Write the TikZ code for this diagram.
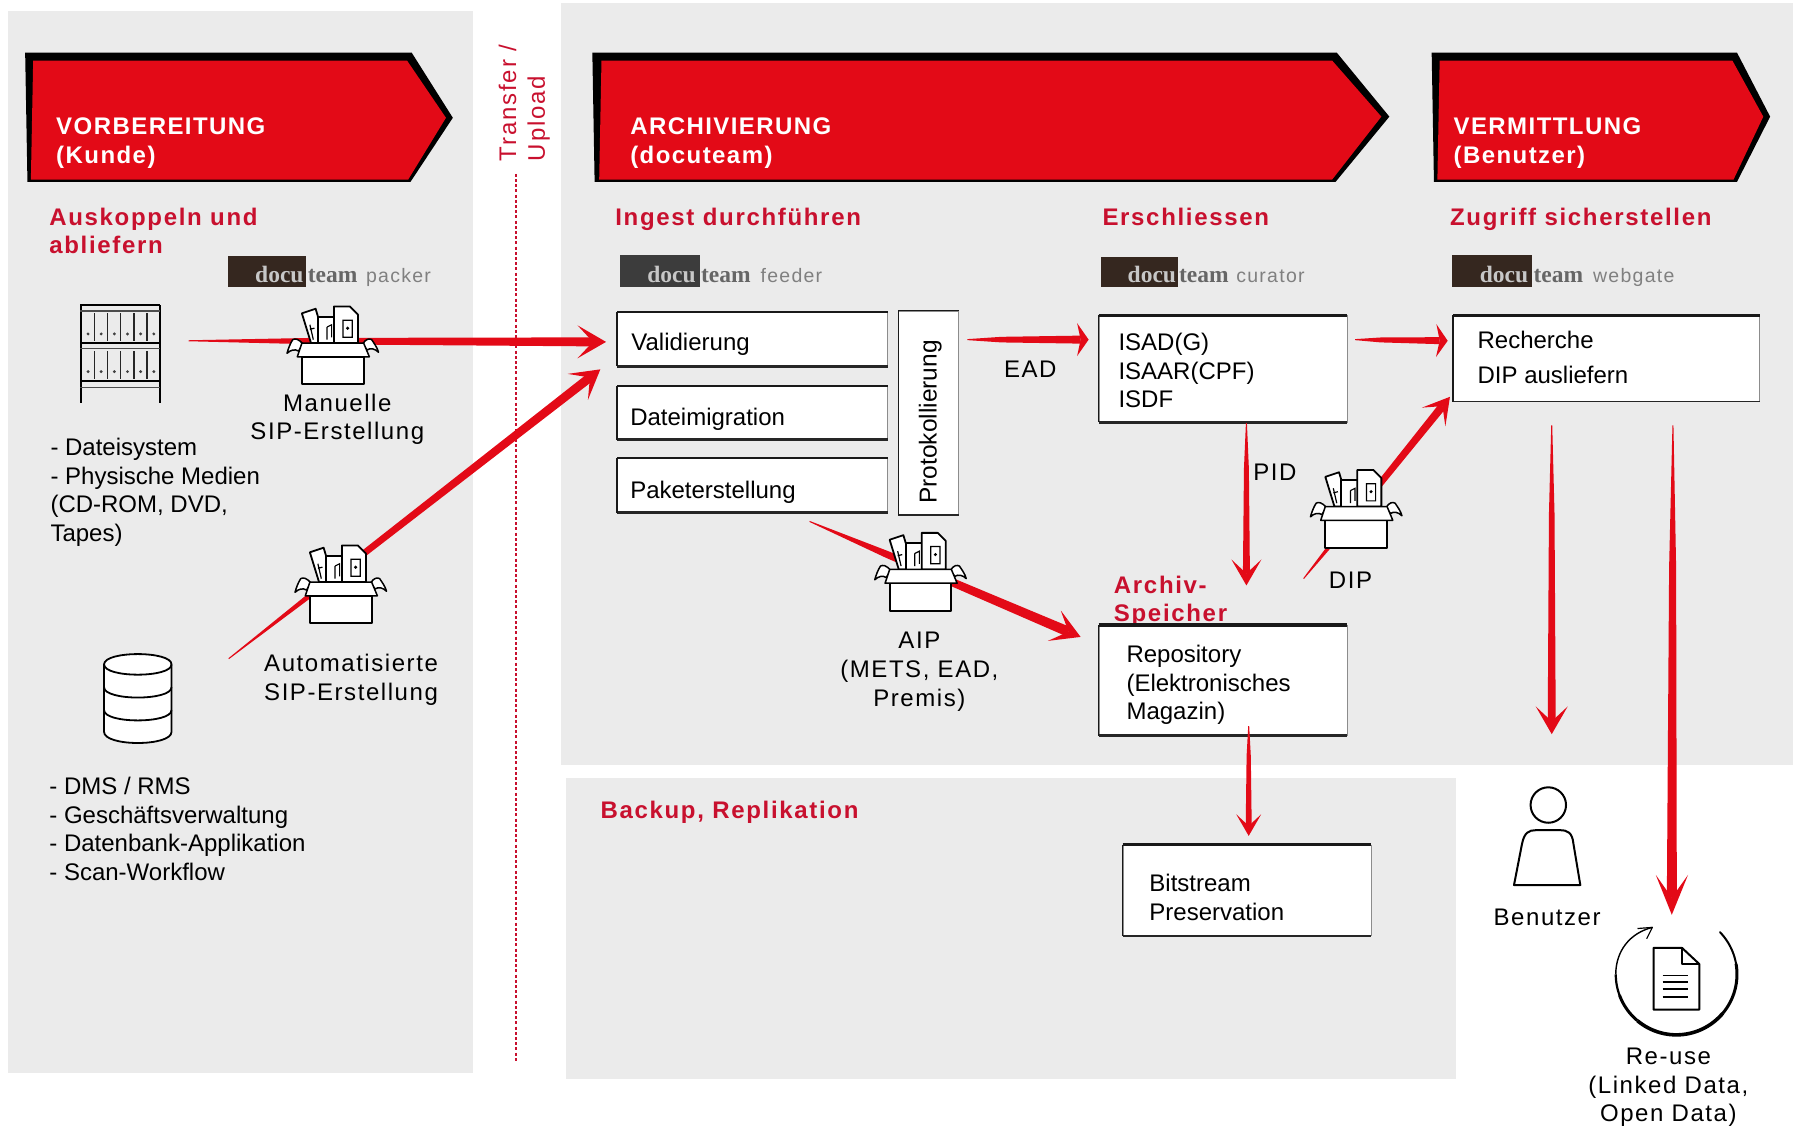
\documentclass[tikz,border=0pt]{standalone}
\usepackage{fontspec}
\setmainfont{Liberation Sans}
\newfontfamily\spacedf[LetterSpace=6.5]{Liberation Sans}
\newfontfamily\transf[LetterSpace=7.5]{Liberation Sans}
\newfontfamily\headf[LetterSpace=7]{Liberation Sans}
\newfontfamily\banf[LetterSpace=6]{Liberation Sans}
\newfontfamily\logof{Liberation Serif}
\usetikzlibrary{calc,fit,positioning}
\definecolor{panelgray}{HTML}{EBEBEB}
\definecolor{arrowred}{HTML}{E30A17}
\definecolor{headred}{HTML}{C8102E}
\definecolor{logodark}{HTML}{35271F}
\definecolor{logogray}{HTML}{3C3C3C}
\newcommand{\txtfont}{\fontsize{24}{28.6}\selectfont}
\newcommand{\spfont}{\fontsize{24}{28.6}\selectfont\spacedf}
\newcommand{\hdfont}{\fontsize{24}{28.0}\selectfont\headf\bfseries}
\newcommand{\bnfont}{\fontsize{24}{28.6}\selectfont\banf\bfseries}
% start, tip, start width, end width, barb length, barb angle
\newcommand{\sketcharrow}[6]{%
  \coordinate (N) at ($(#2)!0.4*#5!(#1)$);
  \coordinate (M) at ($(#1)!0.3!(N)$);
  \fill[arrowred] ($(#1)!0.5*#3!90:(#2)$) -- ($(M)!0.35*#4!90:(#2)$) -- ($(N)!0.5*#4!90:(#2)$) -- ($(N)!0.5*#4!-90:(#2)$) -- ($(M)!0.35*#4!-90:(#2)$) -- ($(#1)!0.5*#3!-90:(#2)$) -- cycle;
  \fill[arrowred] (#2) -- ($(#2)!#5!#6:(#1)$) -- (N) -- ($(#2)!#5!-#6:(#1)$) -- cycle;
}
% name, x1, y1, x2, y2, top width, bottom width
\newcommand{\sketchbox}[7]{%
  \node[wbox,fit={(#2,#3)(#4,#5)}] (#1) {};
  \draw[line width=#6,black!90] (#1.north west) -- (#1.north east);
  \draw[line width=#7,black!85] (#1.south west) -- (#1.south east);
  \draw[line width=1.6pt,black!90] (#1.north west) -- (#1.south west);
}
\tikzset{
  x=1.1435pt,y=-1.1435pt,
  wbox/.style={fill=white,draw=black!45,line width=.8pt,inner sep=0pt},
  panel/.style={fill=panelgray,draw=none},
  txt/.style={font=\txtfont,text=black,inner sep=0pt,align=left,anchor=west},
  sptxt/.style={font=\spfont,text=black,inner sep=0pt,align=center},
  head/.style={font=\hdfont,text=headred,inner sep=0pt,align=left,anchor=west},
  ban/.style={font=\bnfont,text=white,inner sep=0pt,align=left,anchor=west},
  icon/.style={line width=1.5pt,draw=black,line join=round},
  logorect/.style={draw=none,inner sep=0pt},
  logoa/.style={font=\fontsize{23.5}{26}\selectfont\logof\bfseries,text=#1,inner sep=0pt,anchor=base west},
  logob/.style={font=\fontsize{19.5}{24}\selectfont\spacedf,text=black!50,inner sep=0pt,anchor=base west},
  boxicon/.pic={
    % papers
    \filldraw[icon,fill=white,line width=1.8pt] (13,6) -- (25,2) -- (34,32) -- (21,32) -- cycle;
    \filldraw[icon,fill=white,line width=1.8pt] (27,9) -- (42,9) -- (42,32) -- (27,32) -- cycle;
    \filldraw[icon,fill=white,line width=1.8pt] (41,0) -- (55,0) -- (62,7) -- (62,32) -- (41,32) -- cycle;
    \draw[line width=1.2pt] (20,16) -- (23,29) (20,20) -- (24,19) (35,18) -- (35,29) (35,18) -- (39,16) -- (39,27) (49,12) rectangle (57,27);
    \fill (53,19) circle (1.5);
    % flaps
    \filldraw[icon,fill=white] (14,33) .. controls (10,28) and (7,28) .. (5,29) .. controls (3,32) and (1,37) .. (0,41) .. controls (3,38) and (7,37) .. (10,39) -- cycle;
    \filldraw[icon,fill=white] (66,33) .. controls (69,28) and (72,28) .. (74,29) .. controls (76,32) and (79,36) .. (80,40) .. controls (77,37) and (73,36) .. (70,38) -- cycle;
    % box
    \filldraw[icon,fill=white,line width=1.8pt] (13,44) rectangle (67,68);
    \filldraw[icon,fill=white] (13,32) -- (67,32) -- (72,44) -- (9,44) -- cycle;
  },
  shelficon/.pic={
    \draw[line width=2.4pt] (1,0) -- (1,85) (70,0) -- (70,85);
    \draw[line width=1.8pt] (0,0) -- (70,0);
    \draw[line width=1.3pt,black!70] (0,5) -- (70,5);
    \draw[line width=1.8pt] (0,33) -- (70,33);
    \draw[line width=1.3pt,black!70] (0,38) -- (70,38);
    \draw[line width=1.8pt] (0,66) -- (70,66);
    \draw[line width=1.3pt,black!70] (0,72) -- (70,72);
    \foreach \r in {0,33}{
      \foreach \c in {1,2,3,4,5}{
        \draw[line width=1.6pt,black!85] ({1+\c*11.5},{7+\r}) -- ({1+\c*11.5},{31+\r});
      }
      \foreach \c in {0,1,2,3,4,5}{
        \fill[black!75] ({7+\c*11.5},{25+\r}) circle (1.4);
      }
    }
  },
  dbicon/.pic={
    \filldraw[icon,fill=white,line width=1.8pt] (0,9) .. controls (0,-3) and (59,-3) .. (59,9) -- (59,68) .. controls (59,81) and (0,81) .. (0,68) -- cycle;
    \draw[line width=1.8pt] (0,9) .. controls (0,21) and (59,21) .. (59,9);
    \draw[line width=1.8pt] (0,29) .. controls (0,41) and (59,41) .. (59,29);
    \draw[line width=1.8pt] (0,49) .. controls (0,61) and (59,61) .. (59,49);
  },
}
\begin{document}
\begin{tikzpicture}
\useasboundingbox (0,0) rectangle (1568,986.4);
% panels
\fill[panel] (7,10) rectangle (414,938);
\fill[panel] (491,3) rectangle (1568,669);
\fill[panel] (495,680) rectangle (1273,944);
% banners
\fill[black] (22,46) -- (360,46) -- (396,103) -- (359,159) -- (24,159) -- cycle;
\fill[arrowred] (29,53) -- (356,53) -- (390,103) -- (357,157) -- (27,157) -- cycle;
\fill[black] (518,46) -- (1169,46) -- (1215,102) -- (1168,159) -- (520,159) -- cycle;
\fill[arrowred] (526,53) -- (1165,53) -- (1208,102) -- (1165,157) -- (524,157) -- cycle;
\fill[black] (1252,46) -- (1519,46) -- (1548,102) -- (1519,159) -- (1254,159) -- cycle;
\fill[arrowred] (1259,53) -- (1515,53) -- (1542,102) -- (1516,157) -- (1257,157) -- cycle;
\node[ban] (b1) at (49,125) {VORBEREITUNG\\(Kunde)};
\node[ban] (b2) at (551,125) {ARCHIVIERUNG\\(docuteam)};
\node[ban] (b3) at (1271,125) {VERMITTLUNG\\(Benutzer)};
% headings
\node[head] (h1) at (43,202) {Auskoppeln und\\abliefern};
\node[head] (h2) at (538,192) {Ingest durchführen};
\node[head] (h3) at (964,190) {Erschliessen};
\node[head] (h4) at (1268,192) {Zugriff sicherstellen};
\node[head] (h5) at (974,526) {Archiv-\\Speicher};
\node[head] (h6) at (525,710) {Backup, Replikation};
% transfer
\node[font=\fontsize{24}{28.6}\selectfont\transf,text=headred,rotate=90,align=left,anchor=south west,inner sep=0pt] (tu) at (481,141) {Transfer /\\Upload};
\coordinate (dl1) at (451,152);
\coordinate (dl2) at (451,928);
\draw[headred,line width=1.6pt,dash pattern=on 3pt off 2.2pt] (dl1) -- (dl2);
% logos
\node[logorect,fill=logodark,fit={(199,224)(268,251)}] (lg1) {};
\node[logoa={black!22}] (lg1a) at (223,247) {docu};
\node[logoa={black!60}] (lg1b) at (269,247) {team};
\node[logob] (lg1c) at (320,247) {packer};
\node[logorect,fill=logogray,fit={(542,223)(612,251)}] (lg2) {};
\node[logoa={black!22}] (lg2a) at (566,247) {docu};
\node[logoa={black!60}] (lg2b) at (613,247) {team};
\node[logob] (lg2c) at (665,247) {feeder};
\node[logorect,fill=logodark,fit={(963,225)(1030,251)}] (lg3) {};
\node[logoa={black!22}] (lg3a) at (986,247) {docu};
\node[logoa={black!60}] (lg3b) at (1031,247) {team};
\node[logob] (lg3c) at (1081,247) {curator};
\node[logorect,fill=logodark,fit={(1270,223)(1340,251)}] (lg4) {};
\node[logoa={black!22}] (lg4a) at (1294,247) {docu};
\node[logoa={black!60}] (lg4b) at (1341,247) {team};
\node[logob] (lg4c) at (1393,247) {webgate};
% arrow ends
\coordinate (a1s) at (165,298); \coordinate (a1t) at (530,299);
\coordinate (a2s) at (200,576); \coordinate (a2t) at (525,323);
\coordinate (a3s) at (846,297); \coordinate (a3t) at (952,297);
\coordinate (a4s) at (1185,297); \coordinate (a4t) at (1266,298);
\coordinate (a5s) at (1090,370); \coordinate (a5t) at (1090,512);
\coordinate (a6s) at (708,456); \coordinate (a6t) at (945,557);
\coordinate (a7s) at (1140,506); \coordinate (a7t) at (1268,347);
\coordinate (a8s) at (1092,635); \coordinate (a8t) at (1092,731);
\coordinate (a9s) at (1357,372); \coordinate (a9t) at (1357,642);
\coordinate (a10s) at (1463,372); \coordinate (a10t) at (1462,800);
% boxes
\sketchbox{val}{540}{273}{776}{320}{2pt}{2.4pt}
\sketchbox{mig}{540}{338}{776}{384}{2pt}{2.4pt}
\sketchbox{pak}{540}{401}{776}{448}{2pt}{2.4pt}
\sketchbox{pro}{786}{272}{838}{450}{1.4pt}{2pt}
\sketchbox{isad}{961}{276}{1178}{369}{3.4pt}{2.6pt}
\sketchbox{rech}{1271}{276}{1539}{351}{2.6pt}{1.4pt}
\sketchbox{repo}{961}{547}{1178}{643}{3.4pt}{2.6pt}
\sketchbox{bit}{982}{739}{1199}{818}{2.6pt}{2pt}
\node[txt] (t1) at (552,301) {Validierung};
\node[txt] (t2) at (551,367) {Dateimigration};
\node[txt] (t3) at (551,430.5) {Paketerstellung};
\node[font=\fontsize{24.5}{28}\selectfont,inner sep=0pt,rotate=90] (t4) at (813.5,369) {Protokollierung};
\node[txt] (t5) at (978,324) {ISAD(G)\\ISAAR(CPF)\\ISDF};
\node[txt,font=\fontsize{24}{35}\selectfont] (t6) at (1292,313) {Recherche\\DIP ausliefern};
\node[txt] (t7) at (985,599) {Repository\\(Elektronisches\\Magazin)};
\node[txt] (t8) at (1005,785) {Bitstream\\Preservation};
% arrows
\sketcharrow{a1s}{a1t}{1pt}{9pt}{33pt}{30}
\sketcharrow{a2s}{a2t}{1pt}{9pt}{33pt}{30}
\sketcharrow{a3s}{a3t}{1pt}{8pt}{20pt}{55}
\sketcharrow{a4s}{a4t}{1pt}{7pt}{20pt}{55}
\sketcharrow{a5s}{a5t}{1pt}{7pt}{30pt}{30}
\sketcharrow{a6s}{a6t}{1pt}{10pt}{33pt}{30}
\sketcharrow{a7s}{a7t}{1pt}{8pt}{30pt}{30}
\sketcharrow{a8s}{a8t}{1pt}{6pt}{25pt}{30}
\sketcharrow{a9s}{a9t}{1pt}{8pt}{32pt}{30}
\sketcharrow{a10s}{a10t}{1pt}{10pt}{43pt}{22}
% icons
\pic (shelf) at (70,267) {shelficon};
\pic (db) at (91,572) {dbicon};
\pic (ic1) at (251,268) {boxicon};
\pic (ic2) at (258,477) {boxicon};
\pic (ic3) at (765,466) {boxicon};
\pic (ic4) at (1146,411) {boxicon};
% person
\draw[icon,line width=2pt] (1354,704) circle (15.5);
\draw[icon,line width=2pt] (1324,774) -- (1331,738) .. controls (1333,728) and (1337,726) .. (1343,726) -- (1364,726) .. controls (1371,726) and (1375,728) .. (1376,738) -- (1382,774) -- cycle;
% reuse icon
\draw[icon,line width=2pt,line cap=round] plot[domain=44:10,samples=15] ({1466+53*cos(\x)},{852-53*sin(\x)});
\draw[icon,line width=3pt] plot[domain=10:-40,samples=20] ({1466+53*cos(\x)},{852-53*sin(\x)});
\draw[icon,line width=3.6pt] plot[domain=-40:-130,samples=30] ({1466+53*cos(\x)},{852-53*sin(\x)});
\draw[icon,line width=3pt] plot[domain=-130:-160,samples=12] ({1466+53*cos(\x)},{852-53*sin(\x)});
\draw[icon,line width=2.2pt] plot[domain=-160:-180,samples=10] ({1466+53*cos(\x)},{852-53*sin(\x)});
\draw[icon,line width=1.4pt] (1413,852) .. controls (1413,832) and (1425,816) .. (1445,811);
\draw[icon,line width=1.2pt] (1432,812) -- (1445,811) -- (1440,821);
\filldraw[icon,fill=white,line width=2pt] (1446,829) -- (1471,829) -- (1486,843) -- (1486,883) -- (1446,883) -- cycle;
\draw[icon,line width=1.4pt] (1471,829) -- (1471,843) -- (1486,843);
\foreach \yy in {853,859,865,872}{\draw[line width=1.8pt] (1454,\yy) -- (1476,\yy);}
% labels
\node[txt] (l1) at (44,430.5) {- Dateisystem\\- Physische Medien\\(CD-ROM, DVD,\\Tapes)};
\node[txt] (l2) at (43,725) {- DMS / RMS\\- Geschäftsverwaltung\\- Datenbank-Applikation\\- Scan-Workflow};
\node[sptxt] (l3) at (295,366.5) {Manuelle\\SIP-Erstellung};
\node[sptxt] (l4) at (307,594.5) {Automatisierte\\SIP-Erstellung};
\node[sptxt] (l5) at (804,587.5) {AIP\\(METS, EAD,\\Premis)};
\node[sptxt] (l6) at (901,323) {EAD};
\node[sptxt] (l7) at (1115,413) {PID};
\node[sptxt] (l8) at (1181,507) {DIP};
\node[sptxt] (l9) at (1353,802) {Benutzer};
\node[sptxt] (l10) at (1459,951) {Re-use\\(Linked Data,\\Open Data)};
\end{tikzpicture}
\end{document}
